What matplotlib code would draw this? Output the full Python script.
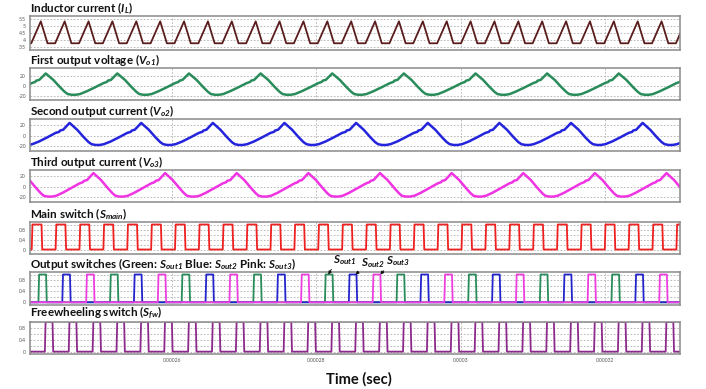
import numpy as np
import matplotlib
matplotlib.use("Agg")
import matplotlib.pyplot as plt

# ---------------- data ----------------
t_span_us = [240.32, 330.4]          # visible time window (microseconds)
period_us = 3.309                    # main switching period
first_main_rise_us = 240.56          # first rising edge of main switch
x_ticks = [0.00026, 0.00028, 0.0003, 0.00032]
x_tick_labels = ["0.00026", "0.00028", "0.0003", "0.00032"]

# inductor current, one switching period (phase as fraction of T)
il_phase = [0.0, 0.40, 0.68]
il_values = [3.75, 5.35, 3.75]
il_phase_shift = -0.02

# main switch, one period
main_phase = [0.0, 0.03, 0.41, 0.44]
main_values = [0, 1, 1, 0]

# output switch pulse inside its own period slot
out_phase = [0.28, 0.31, 0.60, 0.63]
out_values = [0, 1, 1, 0]

# freewheeling switch, one period
fw_phase = [0.55, 0.58, 0.87, 0.90]
fw_values = [0, 1, 1, 0]

# output waveforms over one 3T cycle (phase as fraction of 3T)
vo_phase = [0.000, 0.049, 0.063, 0.105, 0.195, 0.301, 0.395, 0.460,
            0.502, 0.558, 0.614, 0.674, 0.767, 0.883]
vo1_values = [5.5, 8, 10.5, 12, 25, 12, -2.7, -12, -16.5, -18, -18, -16.5, -11, -3]
vo2_values = [5.5, 7.5, 10, 11.5, 24.5, 11.5, -3, -12, -16, -17.5, -17.5, -16, -11, -3]
vo3_values = [6, 8.5, 11, 12.5, 26, 12.5, -3, -13, -18, -19.5, -19.5, -18, -12, -3]

titles = [
    r"Inductor current ($\mathrm{I_L}$)",
    r"First output voltage ($\mathrm{V_{o1}}$)",
    r"Second output current ($\mathrm{V_{o2}}$)",
    r"Third output current ($\mathrm{V_{o3}}$)",
    r"Main switch ($\mathrm{S_{main}}$)",
    r"Output switches (Green: $\mathrm{S_{out1}}$ Blue: $\mathrm{S_{out2}}$ Pink: $\mathrm{S_{out3}}$)",
    r"Freewheeling switch ($\mathrm{S_{fw}}$)",
]
ann_labels = [r"$\mathrm{S_{out1}}$", r"$\mathrm{S_{out2}}$", r"$\mathrm{S_{out3}}$"]

# ---------------- style ----------------
plt.rcParams["font.family"] = ["Lato", "DejaVu Sans"]
plt.rcParams["mathtext.fontset"] = "custom"
plt.rcParams["mathtext.it"] = "Lato:italic:bold"
plt.rcParams["mathtext.rm"] = "Lato:italic:bold"
plt.rcParams["mathtext.bf"] = "Lato:bold"

W, H = 706, 389
fig = plt.figure(figsize=(W / 100, H / 100), dpi=100)
fig.patch.set_facecolor("white")


def tile(phases, values, period, offset, lo, hi):
    n0 = int(np.floor((lo - offset) / period)) - 1
    n1 = int(np.ceil((hi - offset) / period)) + 1
    ts, ys = [], []
    ph = np.asarray(phases, dtype=float)
    for k in range(n0, n1):
        ts.extend(offset + (k + ph) * period)
        ys.extend(values)
    return np.array(ts) * 1e-6, np.array(ys, dtype=float)


lo, hi = t_span_us
T = period_us
t0 = first_main_rise_us

tops = [16, 68, 119, 170, 222, 272, 322]
heights = [34, 32, 32, 32, 32, 32.5, 32]
axes = []
for top, h in zip(tops, heights):
    ax = fig.add_axes([30 / W, 1 - (top + h) / H, 650 / W, h / H])
    axes.append(ax)

grid_kw = dict(color="#b0b0b0", lw=0.6, ls=(0, (2, 2)))


def style(ax, ylim, yticks, yticklabels, minor=None):
    ax.set_xlim(lo * 1e-6, hi * 1e-6)
    ax.set_ylim(*ylim)
    ax.set_yticks(yticks)
    ax.set_yticklabels(yticklabels)
    if minor is not None:
        ax.set_yticks(minor, minor=True)
        ax.tick_params(axis="y", which="minor", length=0)
    ax.set_xticks(x_ticks)
    ax.set_xticklabels(x_tick_labels)
    ax.tick_params(axis="both", length=0, labelsize=3.6, labelcolor="#555555", pad=3)
    ax.grid(True, which="both", **grid_kw)
    ax.set_axisbelow(True)
    for s in ax.spines.values():
        s.set_color("#8a8a8a")
        s.set_linewidth(1.1)


title_kw = dict(loc="left", fontsize=8.4, fontweight="bold", pad=2.2, color="#111111")

# 1 inductor current
ax = axes[0]
t, y = tile(il_phase, il_values, T, t0 + il_phase_shift * T, lo, hi)
ax.plot(t, y, color="#5a1c1c", lw=1.3)
style(ax, (3.26, 5.74), [3.5, 4, 4.5, 5, 5.5], ["3.5", "4", "4.5", "5", "5.5"])

# 2-4 output voltages
vo_colors = ["#2a8c5a", "#2424dc", "#f034e4"]
vo_ylims = [(-28.5, 36), (-29, 32), (-30, 32)]
for i, vals in enumerate([vo1_values, vo2_values, vo3_values]):
    ax = axes[1 + i]
    t, y = tile(vo_phase, vals, 3 * T, t0 + i * T, lo, hi)
    ax.plot(t, y, color=vo_colors[i], lw=1.8, solid_joinstyle="round")
    style(ax, vo_ylims[i], [-20, 0, 20], ["-20", "0", "20"])

sw_ticks = [0, 0.4, 0.8]
sw_labels = ["0", "0.4", "0.8"]
sw_minor = [0.2, 0.6, 1.0]

# 5 main switch
ax = axes[4]
t, y = tile(main_phase, main_values, T, t0, lo, hi)
ax.plot(t, y, color="#ee2020", lw=1.3)
style(ax, (-0.18, 1.10), sw_ticks, sw_labels, sw_minor)

# 6 output switches
ax = axes[5]
out_colors = ["#2a8c5a", "#2424cc", "#ee3ee0"]
ph3 = [p / 3 for p in out_phase]
for i in range(3):
    t, y = tile(ph3, out_values, 3 * T, t0 + i * T, lo, hi)
    ax.plot(t, y, color=out_colors[i], lw=1.3)
style(ax, (-0.08, 1.09), sw_ticks, sw_labels, sw_minor)

# annotations S_out1..3
ann_targets = [(12, 0.42), (13, 0.56), (14, 0.60)]
ann_offsets = [(3.4, 5.6), (4.3, 3.6), (4.3, 4.7)]
for lab, (k, f), off in zip(ann_labels, ann_targets, ann_offsets):
    ax.annotate(lab, xy=((t0 + (k + f) * T) * 1e-6, 1.0), xycoords="data",
                xytext=off, textcoords="offset points", ha="left", va="bottom",
                fontsize=8.4, color="#111111", annotation_clip=False,
                arrowprops=dict(arrowstyle="-|>", color="#111111", lw=0.7,
                                mutation_scale=4.5, shrinkA=0, shrinkB=0,
                                relpos=(0, 0)))

# 7 freewheeling switch
ax = axes[6]
t, y = tile(fw_phase, fw_values, T, t0, lo, hi)
ax.plot(t, y, color="#8c2a8c", lw=1.3)
style(ax, (-0.08, 1.0), sw_ticks, sw_labels, sw_minor)

for i, ax in enumerate(axes):
    ax.set_title(titles[i], **title_kw)
    if i < len(axes) - 1:
        ax.tick_params(axis="x", labelbottom=False)

fig.text(359 / W, 1 - 379 / H, "Time (sec)", ha="center", va="center",
         fontsize=10.5, fontweight="bold", color="#111111")

fig.savefig("out.png", dpi=100)
